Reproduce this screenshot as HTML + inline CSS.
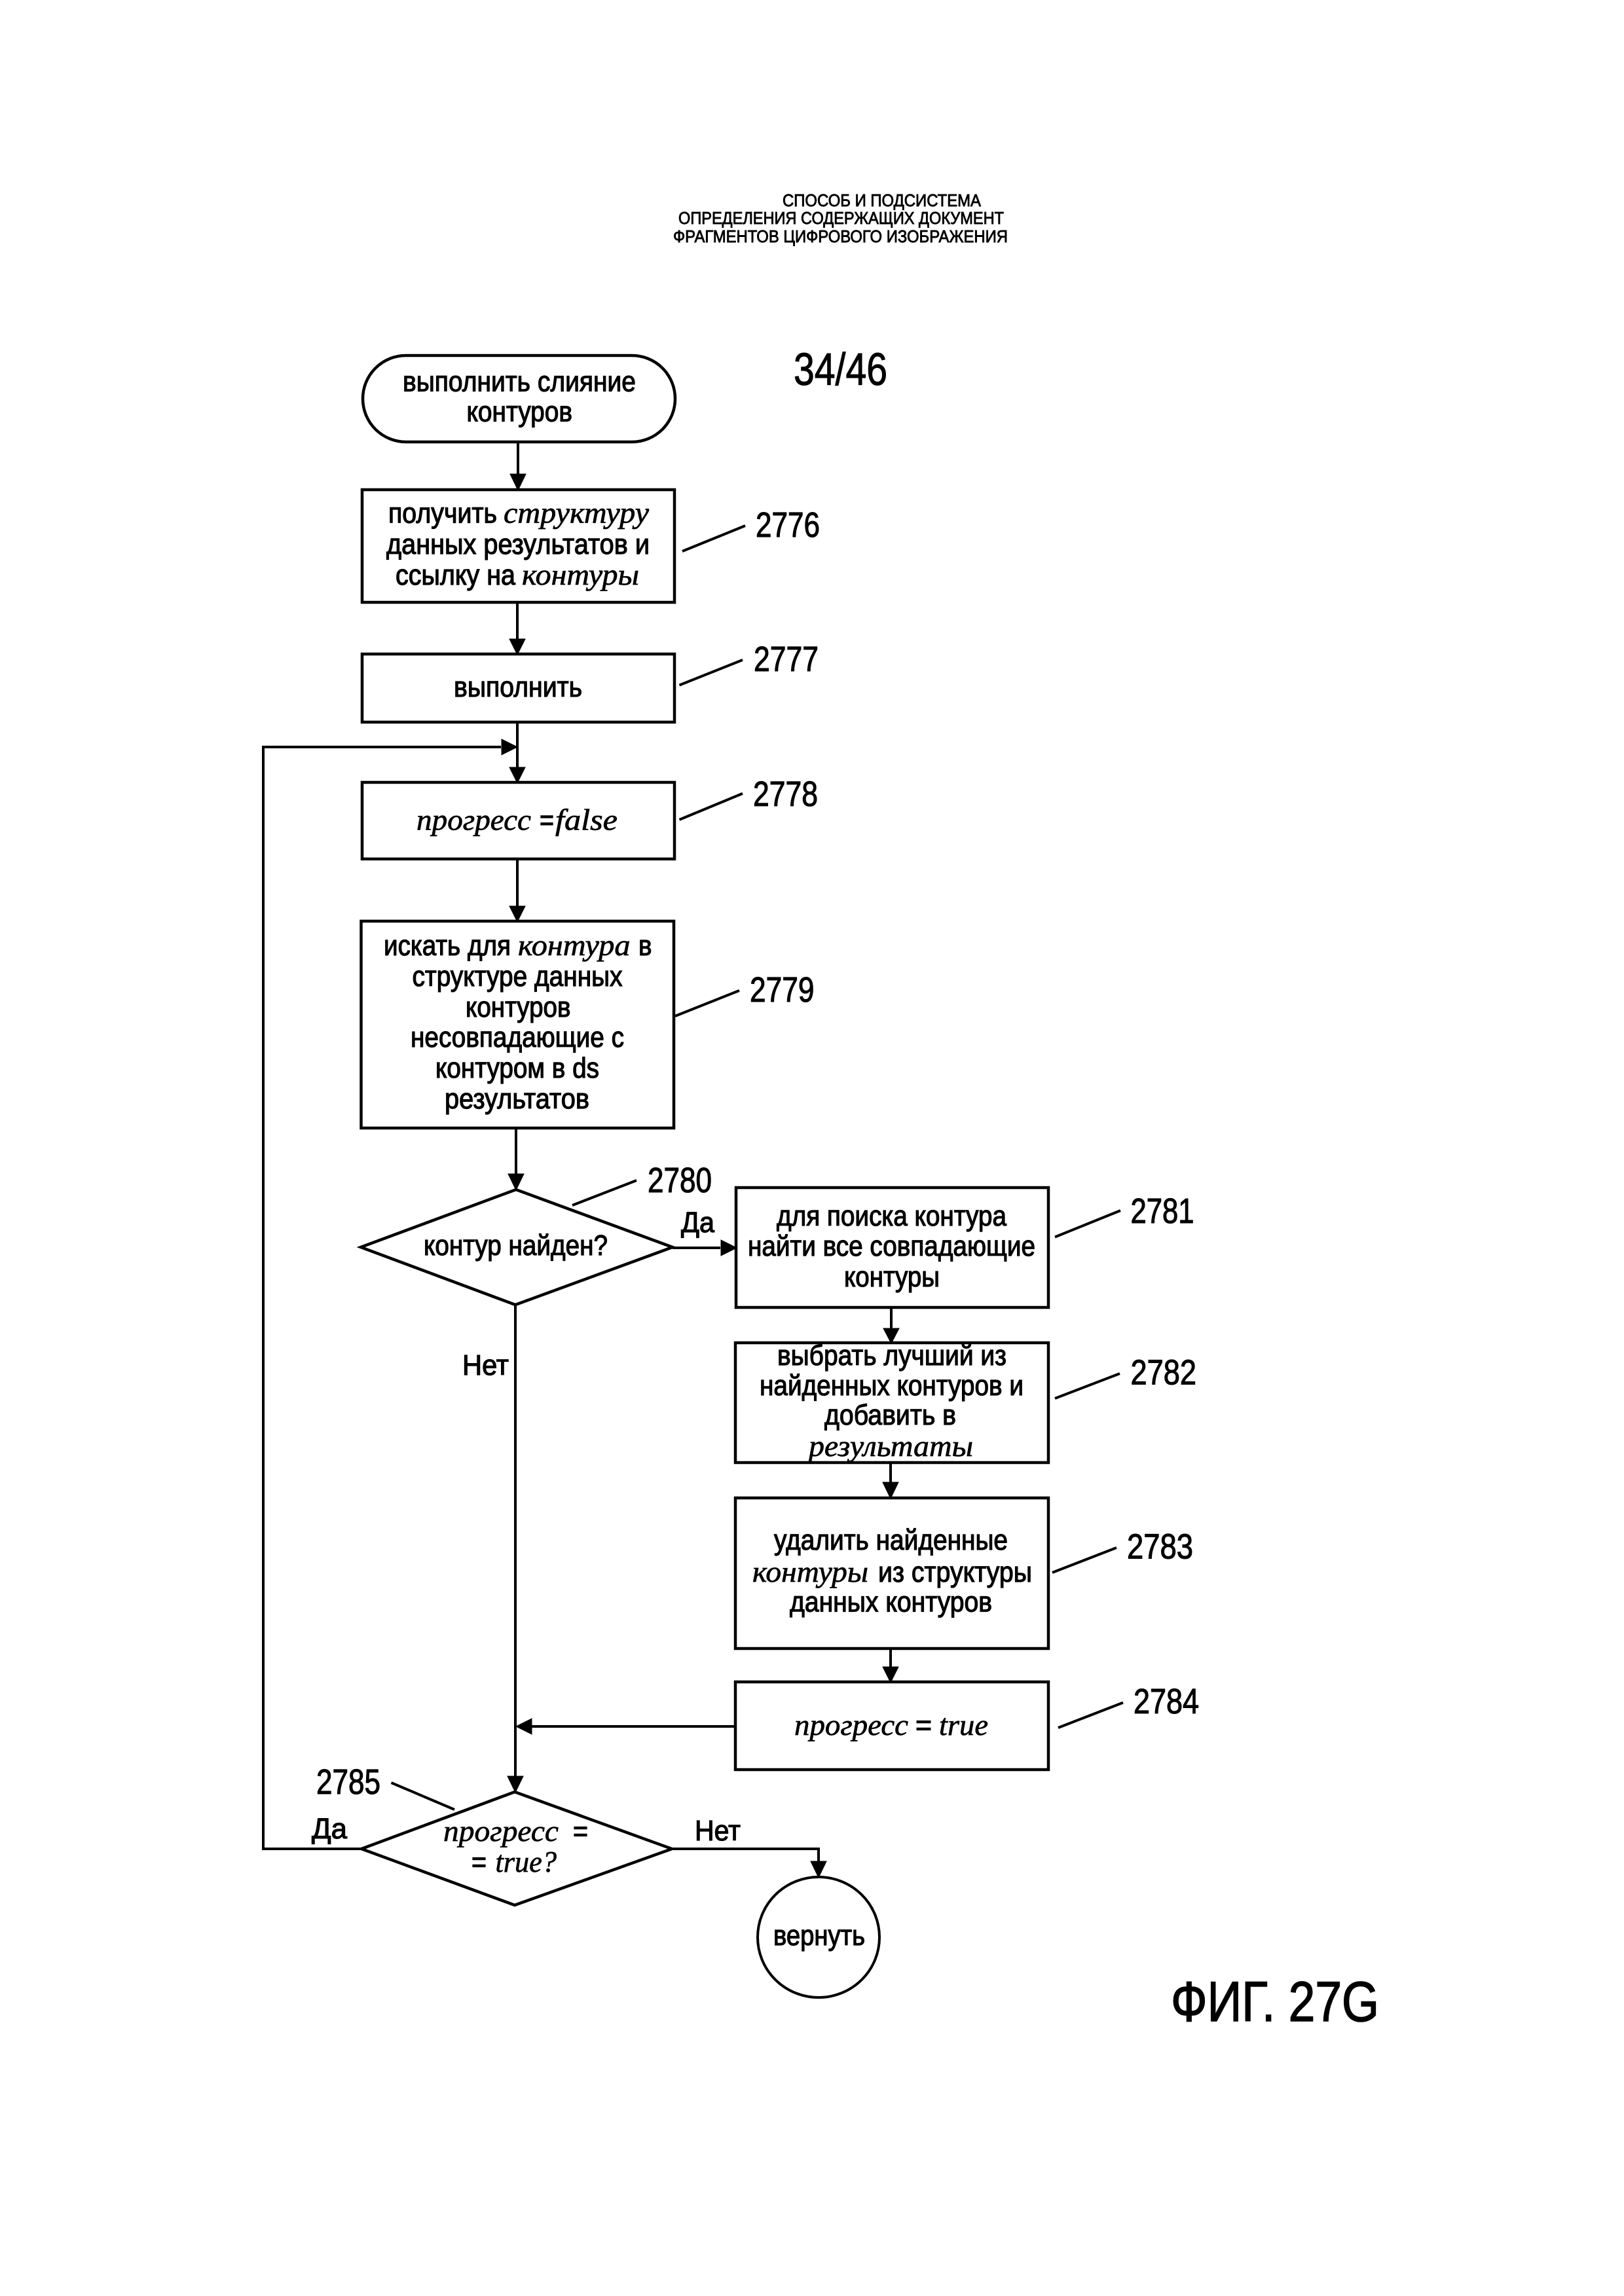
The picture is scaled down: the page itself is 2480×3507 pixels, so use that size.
<!DOCTYPE html>
<html lang="ru">
<head>
<meta charset="utf-8">
<title>34/46</title>
<style>
html,body{margin:0;padding:0;background:#fff;width:2480px;height:3507px;overflow:hidden}
svg{display:block}
text{fill:#000;stroke:#000}
.s{font-family:"Liberation Sans",Arial,sans-serif;font-size:44px;stroke-width:1.2px}
.i{font-family:"Liberation Serif",serif;font-style:italic;font-size:46px;stroke-width:.7px}
.n{font-family:"Liberation Sans",Arial,sans-serif;font-size:54px;stroke-width:1.1px}
.h{font-family:"Liberation Sans",Arial,sans-serif;font-size:26px;stroke-width:.9px}
.b{fill:#fff;stroke:#000;stroke-width:4.5px}
.l{fill:none;stroke:#000;stroke-width:4px}
.c{fill:none;stroke:#000;stroke-width:4px}
.a{fill:#000;stroke:#000;stroke-width:1px}
</style>
</head>
<body>
<svg xmlns="http://www.w3.org/2000/svg" width="2480" height="3507" viewBox="0 0 2480 3507">
<rect width="2480" height="3507" fill="#fff"/>

<!-- header -->
<text class="h" x="1195" y="315" textLength="303" lengthAdjust="spacingAndGlyphs">СПОСОБ И ПОДСИСТЕМА</text>
<text class="h" x="1036" y="342" textLength="497" lengthAdjust="spacingAndGlyphs">ОПРЕДЕЛЕНИЯ СОДЕРЖАЩИХ ДОКУМЕНТ</text>
<text class="h" x="1028" y="370" textLength="511" lengthAdjust="spacingAndGlyphs">ФРАГМЕНТОВ ЦИФРОВОГО ИЗОБРАЖЕНИЯ</text>
<text class="n" style="font-size:70px" x="1212" y="588" textLength="143" lengthAdjust="spacingAndGlyphs">34/46</text>
<text class="n" style="font-size:86px;stroke-width:1.6px" x="1788" y="3087" textLength="318" lengthAdjust="spacingAndGlyphs">ФИГ. 27G</text>

<!-- connectors -->
<path class="l" d="M791 675V726M790 920V977M790 1103V1173M790 1312V1385M788 1723V1795M787 1993V2715M1027 1906H1100M1361 1997V2030M1360 2234V2266M1360 2518V2547M1123 2637H810M552 2824H402V1141H765M1026 2824H1250V2845"/>

<!-- arrowheads -->
<path class="a" d="M779 724H803L791 749ZM778 976H802L790 1000ZM778 1172H802L790 1196ZM778 1384H802L790 1408ZM766 1129V1153L790 1141ZM776 1793H800L788 1818ZM775 2713H799L787 2738ZM1101 1894V1918L1125 1906ZM1349 2029H1373L1361 2052ZM1348 2264H1372L1360 2289ZM1348 2546H1372L1360 2570ZM812 2625V2649L788 2637ZM1238 2843H1262L1250 2868Z"/>

<!-- shapes -->
<rect class="b" x="554" y="543" width="477" height="132" rx="66" ry="66"/>
<rect class="b" x="553" y="748" width="477" height="172"/>
<rect class="b" x="553" y="999" width="477" height="104"/>
<rect class="b" x="553" y="1195" width="477" height="117"/>
<rect class="b" x="551.5" y="1407" width="477.5" height="316"/>
<path class="b" d="M551 1905L788 1817L1027 1905L787 1993Z"/>
<rect class="b" x="1124" y="1814" width="477" height="183"/>
<rect class="b" x="1123" y="2051" width="478" height="183"/>
<rect class="b" x="1123" y="2288" width="478" height="230"/>
<rect class="b" x="1123" y="2569" width="478" height="134"/>
<path class="b" d="M552 2824L786 2737L1026 2824L786 2910Z"/>
<ellipse class="b" cx="1250" cy="2959" rx="93" ry="92" style="stroke-width:4px"/>

<!-- callout lines -->
<path class="c" d="M1042 842L1138 803M1037.5 1046.5L1134 1008M1037.5 1252L1134 1212M1031 1552L1129 1513M874 1841L972 1803M1611 1889.5L1711 1849M1611 2136L1710 2098M1607 2402L1705 2364M1616 2639L1715 2600.6M597.5 2723L694 2764"/>

<!-- terminator -->
<text class="s" x="615" y="597.6" textLength="356" lengthAdjust="spacingAndGlyphs">выполнить слияние</text>
<text class="s" x="712.5" y="643.5" textLength="161.5" lengthAdjust="spacingAndGlyphs">контуров</text>

<!-- 2776 -->
<text class="s" x="593" y="798.5" textLength="166" lengthAdjust="spacingAndGlyphs">получить</text>
<text class="i" x="769" y="798.5" textLength="222" lengthAdjust="spacingAndGlyphs">структуру</text>
<text class="s" x="590" y="846" textLength="402" lengthAdjust="spacingAndGlyphs">данных результатов и</text>
<text class="s" x="604" y="893" textLength="183" lengthAdjust="spacingAndGlyphs">ссылку на</text>
<text class="i" x="797" y="893" textLength="179" lengthAdjust="spacingAndGlyphs">контуры</text>

<!-- 2777 -->
<text class="s" x="693" y="1064" textLength="196" lengthAdjust="spacingAndGlyphs">выполнить</text>

<!-- 2778 -->
<text class="i" x="636" y="1267.5" textLength="175" lengthAdjust="spacingAndGlyphs">прогресс</text>
<text class="s" x="824" y="1267.5" textLength="22" lengthAdjust="spacingAndGlyphs">=</text>
<text class="i" x="848" y="1267.5" textLength="95" lengthAdjust="spacingAndGlyphs">false</text>

<!-- 2779 -->
<text class="s" x="586" y="1459" textLength="194" lengthAdjust="spacingAndGlyphs">искать для</text>
<text class="i" x="791" y="1459" textLength="171.5" lengthAdjust="spacingAndGlyphs">контура</text>
<text class="s" x="975" y="1459" textLength="20.5" lengthAdjust="spacingAndGlyphs">в</text>
<text class="s" x="629.5" y="1506" textLength="321" lengthAdjust="spacingAndGlyphs">структуре данных</text>
<text class="s" x="711" y="1553" textLength="160.5" lengthAdjust="spacingAndGlyphs">контуров</text>
<text class="s" x="627" y="1599" textLength="326" lengthAdjust="spacingAndGlyphs">несовпадающие с</text>
<text class="s" x="665" y="1646" textLength="250" lengthAdjust="spacingAndGlyphs">контуром в ds</text>
<text class="s" x="679" y="1693" textLength="221" lengthAdjust="spacingAndGlyphs">результатов</text>

<!-- 2780 -->
<text class="s" x="647" y="1917" textLength="281" lengthAdjust="spacingAndGlyphs">контур найден?</text>
<text class="s" x="1040" y="1882" textLength="51" lengthAdjust="spacingAndGlyphs">Да</text>
<text class="s" x="706" y="2100" textLength="71" lengthAdjust="spacingAndGlyphs">Нет</text>

<!-- 2781 -->
<text class="s" x="1186" y="1872" textLength="351" lengthAdjust="spacingAndGlyphs">для поиска контура</text>
<text class="s" x="1142" y="1918" textLength="439" lengthAdjust="spacingAndGlyphs">найти все совпадающие</text>
<text class="s" x="1289" y="1965" textLength="146" lengthAdjust="spacingAndGlyphs">контуры</text>

<!-- 2782 -->
<text class="s" x="1187" y="2085" textLength="350" lengthAdjust="spacingAndGlyphs">выбрать лучший из</text>
<text class="s" x="1160" y="2131" textLength="403" lengthAdjust="spacingAndGlyphs">найденных контуров и</text>
<text class="s" x="1259" y="2176" textLength="201" lengthAdjust="spacingAndGlyphs">добавить в</text>
<text class="i" x="1235" y="2224" textLength="251" lengthAdjust="spacingAndGlyphs">результаты</text>

<!-- 2783 -->
<text class="s" x="1182" y="2367" textLength="357" lengthAdjust="spacingAndGlyphs">удалить найденные</text>
<text class="i" x="1149" y="2416" textLength="177" lengthAdjust="spacingAndGlyphs">контуры</text>
<text class="s" x="1341" y="2416" textLength="235" lengthAdjust="spacingAndGlyphs">из структуры</text>
<text class="s" x="1206" y="2461.5" textLength="309" lengthAdjust="spacingAndGlyphs">данных контуров</text>

<!-- 2784 -->
<text class="i" x="1213" y="2650" textLength="174" lengthAdjust="spacingAndGlyphs">прогресс</text>
<text class="s" x="1398" y="2650" textLength="25" lengthAdjust="spacingAndGlyphs">=</text>
<text class="i" x="1434" y="2650" textLength="75" lengthAdjust="spacingAndGlyphs">true</text>

<!-- 2785 -->
<text class="i" x="677" y="2812" textLength="176" lengthAdjust="spacingAndGlyphs">прогресс</text>
<text class="s" x="875" y="2812" textLength="23" lengthAdjust="spacingAndGlyphs">=</text>
<text class="s" x="720" y="2859" textLength="23" lengthAdjust="spacingAndGlyphs">=</text>
<text class="i" x="756.5" y="2859" textLength="93.5" lengthAdjust="spacingAndGlyphs">true?</text>
<text class="s" x="476" y="2808" textLength="54" lengthAdjust="spacingAndGlyphs">Да</text>
<text class="s" x="1061" y="2811" textLength="70" lengthAdjust="spacingAndGlyphs">Нет</text>
<text class="s" x="1181" y="2971" textLength="140" lengthAdjust="spacingAndGlyphs">вернуть</text>

<!-- reference numbers -->
<text class="n" x="1154" y="820" textLength="98" lengthAdjust="spacingAndGlyphs">2776</text>
<text class="n" x="1151" y="1025" textLength="99" lengthAdjust="spacingAndGlyphs">2777</text>
<text class="n" x="1150" y="1231" textLength="99" lengthAdjust="spacingAndGlyphs">2778</text>
<text class="n" x="1145" y="1530" textLength="98.5" lengthAdjust="spacingAndGlyphs">2779</text>
<text class="n" x="989" y="1821" textLength="98" lengthAdjust="spacingAndGlyphs">2780</text>
<text class="n" x="1726.5" y="1868" textLength="97" lengthAdjust="spacingAndGlyphs">2781</text>
<text class="n" x="1726.5" y="2114.6" textLength="100.5" lengthAdjust="spacingAndGlyphs">2782</text>
<text class="n" x="1721" y="2380.5" textLength="101" lengthAdjust="spacingAndGlyphs">2783</text>
<text class="n" x="1731" y="2617" textLength="100" lengthAdjust="spacingAndGlyphs">2784</text>
<text class="n" x="483" y="2740" textLength="98" lengthAdjust="spacingAndGlyphs">2785</text>
</svg>
</body>
</html>
